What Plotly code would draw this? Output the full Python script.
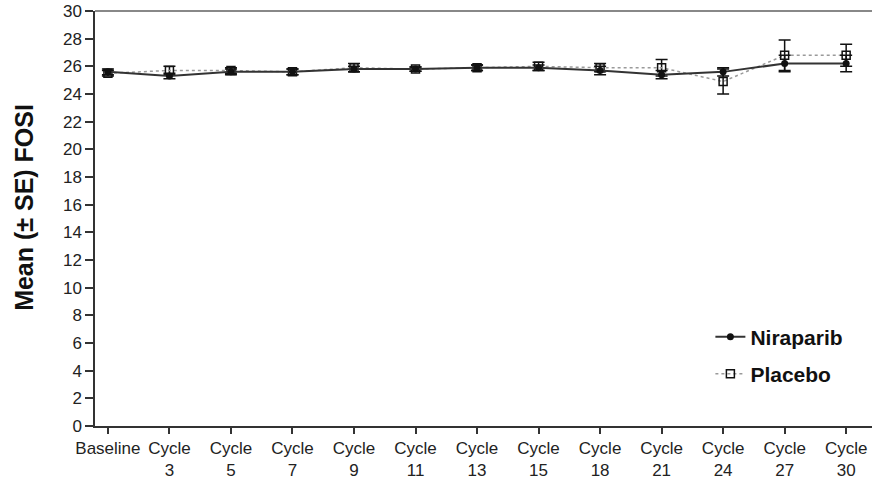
import plotly.graph_objects as go

categories = ["Baseline", "Cycle<br>3", "Cycle<br>5", "Cycle<br>7", "Cycle<br>9", "Cycle<br>11",
              "Cycle<br>13", "Cycle<br>15", "Cycle<br>18", "Cycle<br>21", "Cycle<br>24",
              "Cycle<br>27", "Cycle<br>30"]
niraparib_mean = [25.6, 25.3, 25.6, 25.6, 25.8, 25.8, 25.9, 25.9, 25.7, 25.4, 25.6, 26.2, 26.2]
niraparib_se = [0.2, 0.2, 0.2, 0.2, 0.2, 0.15, 0.2, 0.2, 0.3, 0.3, 0.3, 0.6, 0.6]
placebo_mean = [25.5, 25.7, 25.7, 25.6, 25.9, 25.8, 25.9, 26.0, 25.9, 25.9, 24.9, 26.8, 26.8]
placebo_se = [0.2, 0.3, 0.2, 0.2, 0.3, 0.15, 0.2, 0.3, 0.3, 0.6, 0.9, 1.1, 0.8]
y_ticks = list(range(0, 31, 2))

xpos = list(range(len(categories)))

fig = go.Figure()
fig.add_trace(go.Scatter(
    x=xpos, y=placebo_mean, name="<b>Placebo</b>", mode="lines+markers",
    line=dict(color="#9a9a9a", width=1.5, dash="dot"),
    marker=dict(symbol="square-open", size=8, color="#111", line=dict(width=1.5, color="#111")),
    error_y=dict(type="data", array=placebo_se, visible=True, color="#111", thickness=1.5, width=6),
    legend="legend2", showlegend=True,
))
fig.add_trace(go.Scatter(
    x=xpos, y=niraparib_mean, name="<b>Niraparib</b>", mode="lines+markers",
    line=dict(color="#333", width=2),
    marker=dict(symbol="circle", size=7, color="#111"),
    error_y=dict(type="data", array=niraparib_se, visible=True, color="#111", thickness=1.5, width=6),
    legend="legend", showlegend=True,
))

legend_style = dict(font=dict(family="Liberation Sans, Arial, sans-serif", size=21, color="#111"),
                    bgcolor="rgba(0,0,0,0)", borderwidth=0, xanchor="left", yanchor="middle",
                    visible=True)

fig.update_layout(
    width=872, height=482,
    margin=dict(l=95, r=0, t=11, b=56),
    paper_bgcolor="white", plot_bgcolor="white",
    showlegend=True,
    font=dict(family="Liberation Sans, Arial, sans-serif", color="#222"),
    legend=dict(x=0.792, y=0.214, **legend_style),
    legend2=dict(x=0.792, y=0.125, **legend_style),
    xaxis=dict(
        range=[-0.21, 12.42], tickvals=xpos, ticktext=categories, automargin=False,
        showgrid=False, zeroline=False, showline=True, linecolor="#333", linewidth=1.5,
        ticks="outside", ticklen=6, tickcolor="#333", tickwidth=1.5,
        tickfont=dict(size=17, color="#222"), ticklabelstandoff=0,
    ),
    yaxis=dict(
        range=[0, 30], tickvals=y_ticks, showgrid=False, zeroline=False, automargin=False,
        showline=True, linecolor="#333", linewidth=1.5,
        ticks="outside", ticklen=8, tickcolor="#333", tickwidth=1.5,
        tickfont=dict(size=17, color="#222"),
    ),
    annotations=[dict(text="<b>Mean (± SE) FOSI</b>", xref="paper", yref="paper",
                      x=-0.0914, y=0.528, textangle=-90, showarrow=False,
                      font=dict(size=25, color="#111"), xanchor="center", yanchor="middle")],
    shapes=[dict(type="line", xref="paper", yref="paper", x0=0, x1=1, y0=1, y1=1,
                 line=dict(color="#888", width=2))],
)

fig.write_html("out.html", config={"displayModeBar": False},
               post_script="document.body.style.margin='0';document.body.style.overflow='hidden';")
